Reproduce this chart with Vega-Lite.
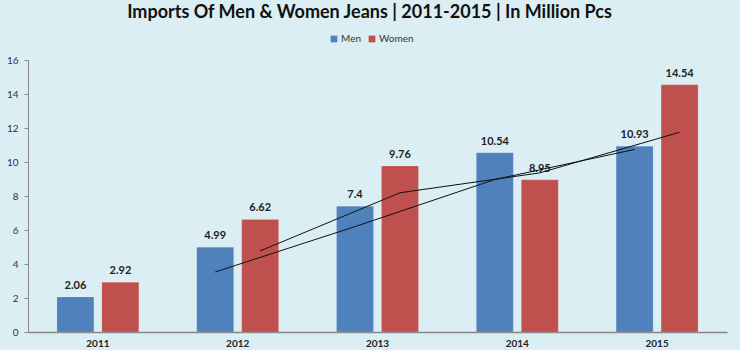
{
  "$schema": "https://vega.github.io/schema/vega-lite/v6.json",
  "autosize": {"type": "none"},
  "width": 699,
  "height": 272,
  "padding": {"left": 28, "top": 60, "right": 13, "bottom": 18},
  "background": "#DAEEF3",
  "config": {
    "view": {"stroke": null},
    "font": "Lato"
  },
  "title": {
    "text": "Imports Of Men & Women Jeans | 2011-2015 | In Million Pcs",
    "fontSize": 18,
    "fontWeight": "bold",
    "font": "Lato",
    "color": "#111111",
    "anchor": "middle",
    "dx": -8,
    "offset": 12
  },
  "data": {
    "values": [
      {"year": "2011", "series": "Men", "value": 2.06, "trend": null},
      {"year": "2011", "series": "Women", "value": 2.92, "trend": null},
      {"year": "2012", "series": "Men", "value": 4.99, "trend": 3.53},
      {"year": "2012", "series": "Women", "value": 6.62, "trend": 4.77},
      {"year": "2013", "series": "Men", "value": 7.4, "trend": 6.2},
      {"year": "2013", "series": "Women", "value": 9.76, "trend": 8.19},
      {"year": "2014", "series": "Men", "value": 10.54, "trend": 8.97},
      {"year": "2014", "series": "Women", "value": 8.95, "trend": 9.36},
      {"year": "2015", "series": "Men", "value": 10.93, "trend": 10.74},
      {"year": "2015", "series": "Women", "value": 14.54, "trend": 11.75}
    ]
  },
  "encoding": {
    "x": {
      "field": "year",
      "type": "nominal",
      "scale": {"paddingInner": 0.414, "paddingOuter": 0.207},
      "axis": {
        "title": null,
        "labelAngle": 0,
        "labelFontWeight": "bold",
        "labelFontSize": 10,
        "labelColor": "#222222",
        "ticks": false,
        "labelPadding": 6,
        "domainColor": "#868686",
        "domainWidth": 1.5
      }
    },
    "xOffset": {
      "field": "series",
      "type": "nominal",
      "scale": {"paddingInner": 0.178, "paddingOuter": 0}
    },
    "y": {
      "field": "value",
      "type": "quantitative",
      "scale": {"domain": [0, 16]},
      "axis": {
        "title": null,
        "values": [0, 2, 4, 6, 8, 10, 12, 14, 16],
        "labelOverlap": false,
        "grid": false,
        "labelFontSize": 10,
        "labelColor": "#333333",
        "tickColor": "#868686",
        "tickSize": 4,
        "labelPadding": 6,
        "domainColor": "#868686"
      }
    }
  },
  "layer": [
    {
      "mark": {"type": "bar", "stroke": "#ffffff", "strokeOpacity": 0.3, "strokeWidth": 0.5},
      "encoding": {
        "color": {
          "field": "series",
          "type": "nominal",
          "scale": {"domain": ["Men", "Women"], "range": ["#4F81BD", "#C0504D"]},
          "legend": {
            "title": null,
            "orient": "none",
            "legendX": 301,
            "legendY": -26,
            "direction": "horizontal",
            "symbolType": "square",
            "symbolSize": 45,
            "symbolStrokeWidth": 0,
            "labelFontSize": 10,
            "labelColor": "#333333",
            "columnPadding": 6,
            "labelOffset": 2
          }
        }
      }
    },
    {
      "mark": {"type": "text", "baseline": "bottom", "dy": -6, "fontWeight": "bold", "fontSize": 11, "color": "#222222"},
      "encoding": {
        "text": {"field": "value", "type": "quantitative"}
      }
    },
    {
      "transform": [{"filter": "datum.trend != null"}],
      "mark": {"type": "line", "color": "#111111", "strokeWidth": 1},
      "encoding": {
        "y": {"field": "trend", "type": "quantitative"},
        "detail": {"field": "series"}
      }
    }
  ]
}
